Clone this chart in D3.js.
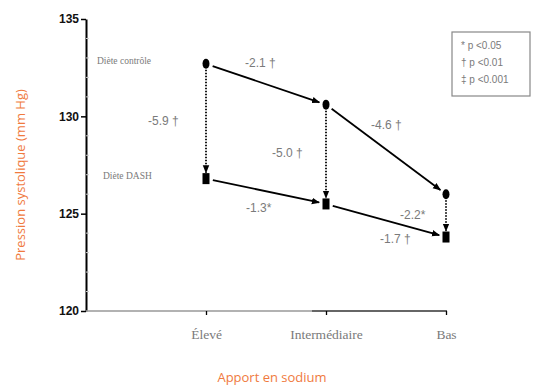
<!DOCTYPE html>
<html>
<head>
<meta charset="utf-8">
<script src="https://cdn.jsdelivr.net/npm/d3@7"></script>
<style>
  body { margin: 0; background: #fff; }
</style>
</head>
<body>
<div id="chart"></div>
<script>
// Sodium intake levels
var categories = ['Élevé', 'Intermédiaire', 'Bas'];
// Systolic pressure (mm Hg) for each diet
var controle = [132.7, 130.6, 126.0];
var dash = [126.8, 125.5, 123.8];
var yTicks = [120, 125, 130, 135];

// differences shown next to the arrows
var diffControle = ['-2.1 †', '-4.6 †'];
var diffDash = ['-1.3*', '-1.7 †'];
var diffDiete = ['-5.9 †', '-5.0 †', '-2.2*'];
var legendLines = ['* p <0.05', '† p <0.01', '‡ p <0.001'];

var width = 537, height = 388;
var orange = '#f07a3e', gris = '#7a7a7a';

var svg = d3.select('#chart').append('svg')
  .attr('width', width)
  .attr('height', height);

var defs = svg.append('defs');
defs.append('marker')
  .attr('id', 'fleche')
  .attr('viewBox', '0 0 10 10')
  .attr('refX', 9).attr('refY', 5)
  .attr('markerWidth', 4.5).attr('markerHeight', 4.5)
  .attr('markerUnits', 'strokeWidth')
  .attr('orient', 'auto')
  .append('path').attr('d', 'M0,1 L10,5 L0,9 Z').attr('fill', '#000');

var y = d3.scaleLinear().domain([120, 135]).range([311, 19]);
var x = d3.scalePoint().domain(categories).range([206, 446]);

// y axis
var yAxis = svg.append('g')
  .attr('transform', 'translate(86,0)')
  .call(d3.axisLeft(y).tickValues(yTicks).tickSize(5).tickSizeOuter(0));
yAxis.select('.domain').attr('stroke', '#000').attr('stroke-width', 2);
yAxis.selectAll('.tick line').attr('stroke-width', 1.5);
yAxis.selectAll('.tick text')
  .style('font-family', '"Liberation Sans Narrow", "Liberation Sans", sans-serif')
  .style('font-size', '12px').attr('font-weight', 'bold').attr('fill', '#111').attr('x', -7);

// faint minor ticks
svg.append('g').selectAll('line')
  .data(d3.range(120, 135.01, 1).filter(function(v){ return v % 5 !== 0; }))
  .enter().append('line')
  .attr('x1', 86).attr('x2', 89)
  .attr('y1', function(d){ return y(d); }).attr('y2', function(d){ return y(d); })
  .attr('stroke', '#ccc');

// x axis
svg.append('line')
  .attr('x1', 86).attr('x2', 312).attr('y1', y(120)).attr('y2', y(120))
  .attr('stroke', '#999').attr('stroke-width', 1.5);
svg.append('line')
  .attr('x1', 312).attr('x2', 447).attr('y1', y(120)).attr('y2', y(120))
  .attr('stroke', '#333').attr('stroke-width', 1.3);
var xAxis = svg.append('g')
  .attr('transform', 'translate(0,' + y(120) + ')')
  .call(d3.axisBottom(x).tickSize(4).tickSizeOuter(0));
xAxis.select('.domain').remove();
xAxis.selectAll('.tick line').attr('stroke', '#000').attr('stroke-width', 1.3);
xAxis.selectAll('.tick text')
  .attr('y', 18)
  .style('font-family', '"Liberation Serif", serif')
  .style('font-size', '13.5px').attr('fill', gris);

// axis titles
svg.append('text')
  .attr('transform', 'translate(25,' + 175 + ') rotate(-90)')
  .attr('text-anchor', 'middle')
  .attr('font-family', '"Open Sans", sans-serif')
  .attr('font-size', 13).attr('fill', orange)
  .text('Pression systolique (mm Hg)');
svg.append('text')
  .attr('x', 272).attr('y', 382)
  .attr('text-anchor', 'middle')
  .attr('font-family', '"Open Sans", sans-serif')
  .attr('font-size', 13).attr('fill', orange)
  .text('Apport en sodium');

var plot = svg.append('g');

// solid arrows between sodium levels
function fleches(serie, pad) {
  d3.range(serie.length - 1).forEach(function(i) {
    var x1 = x(categories[i]), y1 = y(serie[i]);
    var x2 = x(categories[i + 1]), y2 = y(serie[i + 1]);
    var dx = x2 - x1, dy = y2 - y1, len = Math.sqrt(dx * dx + dy * dy);
    plot.append('line')
      .attr('x1', x1 + dx / len * 7).attr('y1', y1 + dy / len * 7)
      .attr('x2', x2 - dx / len * pad).attr('y2', y2 - dy / len * pad)
      .attr('stroke', '#000').attr('stroke-width', 1.8)
      .attr('marker-end', 'url(#fleche)');
  });
}
fleches(controle, 7);
fleches(dash, 7);

// dotted vertical arrows control -> DASH
categories.forEach(function(c, i) {
  plot.append('line')
    .attr('x1', x(c)).attr('x2', x(c))
    .attr('y1', y(controle[i]) + 6).attr('y2', y(dash[i]) - 6)
    .attr('stroke', '#000').attr('stroke-width', 1.8)
    .attr('stroke-dasharray', '1.5,1.5')
    .attr('marker-end', 'url(#fleche)');
});

// markers
plot.selectAll('ellipse.ctl')
  .data(controle).enter().append('ellipse')
  .attr('class', 'ctl')
  .attr('cx', function(d, i){ return x(categories[i]); })
  .attr('cy', function(d){ return y(d); })
  .attr('rx', 3.5).attr('ry', 5)
  .attr('fill', '#000');
plot.selectAll('rect.dash')
  .data(dash).enter().append('rect')
  .attr('class', 'dash')
  .attr('x', function(d, i){ return x(categories[i]) - 3.5; })
  .attr('y', function(d){ return y(d) - 5.5; })
  .attr('width', 7).attr('height', 11)
  .attr('fill', '#000');

// series names
var serieLabels = svg.append('g')
  .attr('font-family', '"Liberation Serif", serif')
  .attr('font-size', 9.5).attr('fill', gris);
serieLabels.append('text')
  .attr('x', 97).attr('y', y(controle[0]) + 0)
  .text('Diète contrôle');
serieLabels.append('text')
  .attr('x', 103).attr('y', y(dash[0]) + 0)
  .text('Diète DASH');

// difference annotations
var ann = svg.append('g')
  .attr('font-family', '"Liberation Sans Narrow", "Liberation Sans", sans-serif')
  .attr('font-size', 12).attr('fill', gris);
function mid(a, b) { return (a + b) / 2; }
ann.append('text')
  .attr('x', mid(x(categories[0]), x(categories[1])) - 21)
  .attr('y', mid(y(controle[0]), y(controle[1])) - 17)
  .text(diffControle[0]);
ann.append('text')
  .attr('x', mid(x(categories[1]), x(categories[2])) - 15)
  .attr('y', mid(y(controle[1]), y(controle[2])) - 20)
  .text(diffControle[1]);
ann.append('text')
  .attr('x', mid(x(categories[0]), x(categories[1])) - 20)
  .attr('y', mid(y(dash[0]), y(dash[1])) + 21)
  .text(diffDash[0]);
ann.append('text')
  .attr('x', mid(x(categories[1]), x(categories[2])) - 6)
  .attr('y', mid(y(dash[1]), y(dash[2])) + 23)
  .text(diffDash[1]);
var diffPos = [[-58, 4], [-54, 3], [-46, 3]];
categories.forEach(function(c, i) {
  ann.append('text')
    .attr('x', x(c) + diffPos[i][0])
    .attr('y', mid(y(controle[i]), y(dash[i])) + diffPos[i][1])
    .text(diffDiete[i]);
});

// legend box
var leg = svg.append('g').attr('transform', 'translate(452,32)');
leg.append('rect')
  .attr('width', 78).attr('height', 64)
  .attr('fill', 'none').attr('stroke', '#888').attr('stroke-width', 1.2);
leg.selectAll('text')
  .data(legendLines).enter().append('text')
  .attr('x', 9).attr('y', function(d, i){ return 17 + i * 17; })
  .attr('font-family', '"Liberation Sans Narrow", "Liberation Sans", sans-serif')
  .attr('font-size', 10).attr('fill', gris)
  .text(function(d){ return d; });
</script>
</body>
</html>
